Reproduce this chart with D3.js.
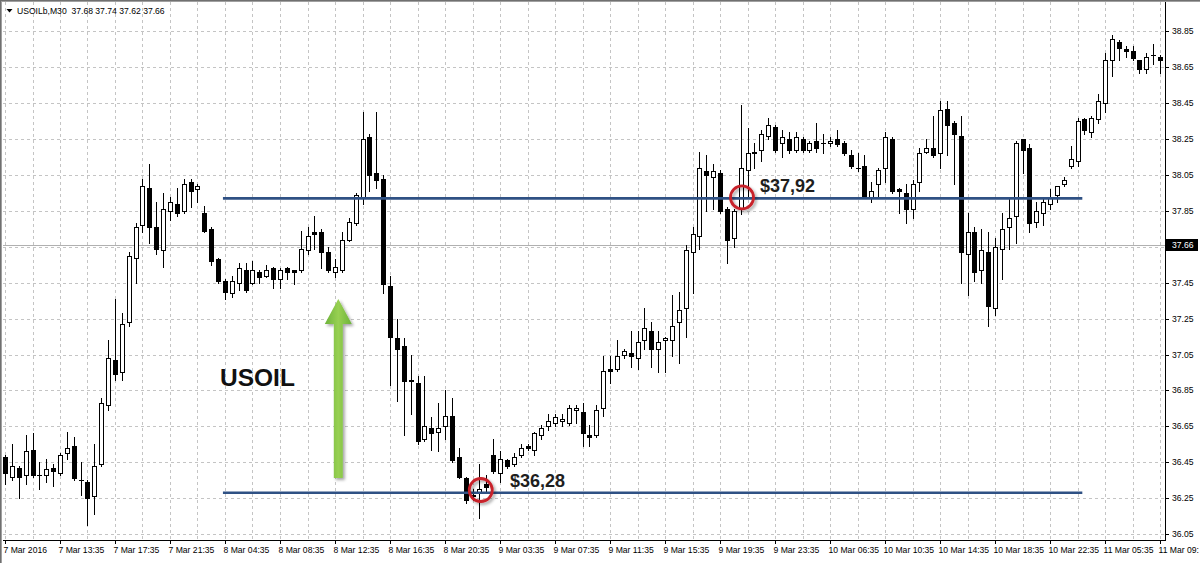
<!DOCTYPE html>
<html><head><meta charset="utf-8">
<script src="https://cdn.jsdelivr.net/npm/d3@7"></script>
<style>html,body{margin:0;padding:0;background:#fff;}svg{display:block;}</style>
</head><body>
<svg id="chart" width="1200" height="563"></svg>
<script>
// ---- data (USOILb M30 candles) ----
const opens = [36.48,36.37,36.42,36.38,36.52,36.38,36.38,36.42,36.39,36.50,36.54,36.35,36.34,36.26,36.44,36.77,37.02,36.95,37.23,37.59,
37.77,37.98,37.76,37.63,37.85,37.89,37.85,38.01,37.97,37.84,37.75,37.58,37.46,37.39,37.45,37.52,37.45,37.51,37.49,37.53,
37.47,37.53,37.52,37.52,37.63,37.73,37.73,37.62,37.51,37.52,37.69,37.78,37.92,38.26,38.06,38.03,37.43,37.14,37.10,36.91,
36.89,36.58,36.64,36.62,36.65,36.71,36.48,36.36,36.26,36.28,36.33,36.49,36.39,36.46,36.44,36.49,36.54,36.52,36.60,36.65,
36.67,36.68,36.67,36.74,36.73,36.60,36.60,36.75,36.97,36.97,37.05,37.06,37.03,37.13,37.18,37.08,37.13,37.13,37.23,37.31,
37.62,37.71,38.07,38.04,38.06,37.86,37.70,37.86,38.08,38.17,38.19,38.27,38.32,38.23,38.25,38.19,38.25,38.19,38.24,38.23,
38.23,38.25,38.23,38.16,38.09,38.10,37.93,38.00,38.09,38.25,37.97,37.95,37.86,38.01,38.18,38.20,38.17,38.42,38.34,38.27,
37.61,37.73,37.52,37.62,37.31,37.64,37.76,37.82,38.25,38.20,37.79,37.84,37.89,37.94,38.00,38.10,38.13,38.36,38.29,38.36,
38.45,38.69,38.79,38.75,38.74,38.69,38.64,38.72,38.71];
const highs = [36.49,36.55,36.43,36.60,36.61,36.45,36.47,36.44,36.50,36.62,36.59,36.45,36.35,36.55,36.81,37.13,37.36,37.28,37.62,37.78,
38.03,38.11,37.90,37.95,37.93,37.98,38.03,38.03,38.00,37.88,37.76,37.59,37.47,37.49,37.56,37.56,37.57,37.52,37.55,37.54,
37.53,37.54,37.52,37.74,37.76,37.82,37.75,37.65,37.58,37.73,37.81,37.95,38.40,38.28,38.40,38.05,37.49,37.25,37.14,37.05,
36.93,36.93,36.70,36.78,36.85,36.81,36.53,36.37,36.30,36.44,36.38,36.58,36.51,36.47,36.50,36.55,36.55,36.62,36.66,36.72,
36.72,36.72,36.77,36.77,36.78,36.66,36.77,37.04,37.04,37.13,37.08,37.18,37.18,37.31,37.23,37.18,37.15,37.38,37.40,37.66,
37.76,38.18,38.16,38.11,38.08,37.87,37.86,38.44,38.31,38.23,38.30,38.37,38.33,38.30,38.29,38.29,38.26,38.24,38.34,38.28,
38.26,38.30,38.24,38.19,38.17,38.16,38.01,38.09,38.29,38.26,37.98,38.00,38.02,38.20,38.25,38.38,38.46,38.46,38.35,38.38,
37.84,37.76,37.75,37.73,37.70,37.84,37.92,38.24,38.25,38.22,37.90,37.92,37.97,37.99,38.04,38.21,38.37,38.37,38.38,38.50,
38.73,38.83,38.80,38.77,38.77,38.69,38.73,38.78,38.72];
const lows = [36.33,36.35,36.25,36.33,36.37,36.30,36.34,36.32,36.38,36.47,36.35,36.27,36.10,36.16,36.43,36.74,36.91,36.91,37.21,37.45,
37.73,37.67,37.61,37.54,37.80,37.82,37.84,37.87,37.90,37.73,37.55,37.45,37.36,37.37,37.41,37.40,37.44,37.45,37.48,37.42,
37.42,37.47,37.44,37.51,37.61,37.64,37.53,37.51,37.48,37.51,37.68,37.77,37.89,37.96,37.98,37.39,36.88,36.79,36.60,36.72,
36.55,36.57,36.52,36.51,36.58,36.45,36.36,36.22,36.24,36.14,36.29,36.39,36.34,36.42,36.43,36.48,36.52,36.49,36.58,36.63,
36.65,36.65,36.66,36.67,36.54,36.54,36.59,36.71,36.89,36.96,37.03,36.98,36.97,37.08,36.98,36.95,36.95,37.04,37.00,37.15,
37.39,37.64,37.85,37.86,37.84,37.56,37.65,37.83,37.93,38.09,38.13,38.25,38.18,38.15,38.17,38.18,38.18,38.18,38.18,38.17,
38.21,38.21,38.16,38.09,38.07,37.92,37.90,37.93,38.01,37.95,37.84,37.78,37.81,37.96,38.17,38.15,38.09,38.16,38.00,37.45,
37.38,37.46,37.45,37.21,37.27,37.47,37.64,37.67,38.06,37.73,37.76,37.77,37.86,37.90,37.99,38.09,38.10,38.28,38.26,38.34,
38.40,38.60,38.69,38.71,38.69,38.62,38.62,38.67,38.62];
const closes = [36.39,36.43,36.37,36.51,36.38,36.38,36.41,36.40,36.49,36.53,36.36,36.35,36.25,36.43,36.78,37.03,36.94,37.22,37.60,37.76,
37.99,37.76,37.64,37.86,37.90,37.84,38.00,37.96,37.99,37.74,37.57,37.46,37.40,37.46,37.53,37.41,37.52,37.48,37.52,37.47,
37.52,37.51,37.51,37.64,37.71,37.72,37.62,37.52,37.54,37.69,37.79,37.94,38.25,38.05,38.02,37.44,37.15,37.08,36.90,36.90,
36.57,36.65,36.61,36.64,36.71,36.46,36.37,36.24,36.27,36.30,36.31,36.40,36.47,36.43,36.48,36.53,36.53,36.61,36.64,36.68,
36.70,36.69,36.75,36.75,36.61,36.59,36.74,36.96,36.96,37.04,37.07,37.04,37.12,37.20,37.08,37.12,37.14,37.21,37.30,37.63,
37.72,38.09,38.05,38.07,37.85,37.69,37.85,38.09,38.17,38.18,38.28,38.33,38.19,38.26,38.19,38.26,38.19,38.23,38.20,38.23,
38.24,38.22,38.17,38.10,38.09,37.93,37.96,38.08,38.26,37.96,37.96,37.86,38.00,38.17,38.20,38.16,38.41,38.33,38.28,37.62,
37.73,37.51,37.63,37.32,37.65,37.75,37.81,38.23,38.19,37.78,37.85,37.90,37.92,37.99,38.02,38.14,38.35,38.30,38.37,38.46,
38.69,38.81,38.76,38.74,38.70,38.64,38.71,38.72,38.69];
const timeLabels = ["7 Mar 2016","7 Mar 13:35","7 Mar 17:35","7 Mar 21:35","8 Mar 04:35","8 Mar 08:35","8 Mar 12:35",
"8 Mar 16:35","8 Mar 20:35","9 Mar 03:35","9 Mar 07:35","9 Mar 11:35","9 Mar 15:35","9 Mar 19:35","9 Mar 23:35",
"10 Mar 06:35","10 Mar 10:35","10 Mar 14:35","10 Mar 18:35","10 Mar 22:35","11 Mar 05:35","11 Mar 09:"];
const priceTicks = [36.05,36.25,36.45,36.65,36.85,37.05,37.25,37.45,37.65,37.85,38.05,38.25,38.45,38.65,38.85];
const priceLabels = ["36.05","36.25","36.45","36.65","36.85","37.05","37.25","37.45","","37.85","38.05","38.25","38.45","38.65","38.85"];
const currentPrice = 37.66;
const levels = [37.92, 36.28];
const levelLabels = ["$37,92", "$36,28"];
const title = "USOILb,M30  37.68 37.74 37.62 37.66";

// ---- drawing ----
const svg = d3.select("#chart");
const FONT = "'Liberation Sans', Arial, sans-serif";
const plot = {left: 3, right: 1165, top: 2, bottom: 540};
const n = opens.length;
const x = d3.scaleLinear().domain([0, n - 1]).range([5, 1160]);
const y = d3.scaleLinear().domain([36.05, 38.85]).range([534, 31.4]);

const defs = svg.append("defs");
defs.append("clipPath").attr("id", "clip").append("rect")
  .attr("x", plot.left).attr("y", plot.top).attr("width", plot.right - plot.left).attr("height", plot.bottom - plot.top);
const sh = defs.append("filter").attr("id", "shadow").attr("x", "-50%").attr("y", "-50%").attr("width", "200%").attr("height", "200%");
sh.append("feDropShadow").attr("dx", 2).attr("dy", 2).attr("stdDeviation", 1.6).attr("flood-color", "#000").attr("flood-opacity", 0.35);
const gg = defs.append("linearGradient").attr("id", "greenGrad").attr("x1", "0").attr("x2", "1").attr("y1", "0").attr("y2", "0");
gg.append("stop").attr("offset", "0%").attr("stop-color", "#6db33a");
gg.append("stop").attr("offset", "50%").attr("stop-color", "#98d052");
gg.append("stop").attr("offset", "100%").attr("stop-color", "#6db33a");

svg.append("rect").attr("width", 1200).attr("height", 563).attr("fill", "#fff");

// window frame
svg.append("rect").attr("x", 0).attr("y", 0).attr("width", 1200).attr("height", 2).attr("fill", "#a0a0a0");
svg.append("rect").attr("x", 0).attr("y", 0).attr("width", 2).attr("height", 563).attr("fill", "#a0a0a0");
svg.append("line").attr("x1", 0).attr("x2", 1200).attr("y1", 0.5).attr("y2", 0.5).attr("stroke", "#707070");
svg.append("line").attr("x1", 0.5).attr("x2", 0.5).attr("y1", 0).attr("y2", 563).attr("stroke", "#707070");

const g = svg.append("g").attr("clip-path", "url(#clip)");

// grid
const vBars = d3.range(0, n, 4);
g.selectAll("line.vgrid").data(vBars).enter().append("line")
  .attr("x1", d => Math.round(x(d)) + 0.5).attr("x2", d => Math.round(x(d)) + 0.5)
  .attr("y1", plot.top).attr("y2", plot.bottom)
  .attr("stroke", "#c4c4c4").attr("stroke-dasharray", "3,3");
g.selectAll("line.hgrid").data(priceTicks).enter().append("line")
  .attr("x1", plot.left).attr("x2", plot.right)
  .attr("y1", d => Math.round(y(d)) + 0.5).attr("y2", d => Math.round(y(d)) + 0.5)
  .attr("stroke", "#c4c4c4").attr("stroke-dasharray", "3,3");

// bid line
g.append("line").attr("x1", plot.left).attr("x2", plot.right)
  .attr("y1", Math.round(y(currentPrice)) + 0.5).attr("y2", Math.round(y(currentPrice)) + 0.5)
  .attr("stroke", "#b0b0b0");

// candles
const idx = d3.range(n);
const cx = i => Math.round(x(i));
g.selectAll("line.wick").data(idx).enter().append("line")
  .attr("x1", i => cx(i) + 0.5).attr("x2", i => cx(i) + 0.5)
  .attr("y1", i => Math.round(y(highs[i]))).attr("y2", i => Math.round(y(lows[i])) + 1)
  .attr("stroke", "#000").attr("stroke-width", 1);
idx.forEach(i => {
  const o = opens[i], c = closes[i];
  const top = Math.round(y(Math.max(o, c))), bot = Math.round(y(Math.min(o, c)));
  if (bot - top < 1) {
    g.append("line").attr("x1", cx(i) - 2).attr("x2", cx(i) + 3)
      .attr("y1", top + 0.5).attr("y2", top + 0.5).attr("stroke", "#000");
  } else {
    g.append("rect").attr("x", cx(i) - 1.5).attr("y", top + 0.5)
      .attr("width", 4).attr("height", bot - top)
      .attr("fill", c >= o ? "#fff" : "#000").attr("stroke", "#000").attr("stroke-width", 1);
  }
});

// axes
svg.append("line").attr("x1", plot.right + 0.5).attr("x2", plot.right + 0.5).attr("y1", 2).attr("y2", plot.bottom + 1).attr("stroke", "#000");
svg.append("line").attr("x1", plot.left).attr("x2", plot.right + 1).attr("y1", plot.bottom + 0.5).attr("y2", plot.bottom + 0.5).attr("stroke", "#000");

svg.selectAll("text.price").data(priceTicks).enter().append("text")
  .attr("x", 1172).attr("y", d => y(d) + 3)
  .attr("font-family", FONT).attr("font-size", "8.6px").attr("fill", "#000")
  .text((d, i) => priceLabels[i]);
svg.selectAll("line.ptick").data(priceTicks).enter().append("line")
  .attr("x1", plot.right + 1).attr("x2", plot.right + 4)
  .attr("y1", d => Math.round(y(d)) + 0.5).attr("y2", d => Math.round(y(d)) + 0.5).attr("stroke", "#000");

// current price box
const cy = y(currentPrice);
svg.append("rect").attr("x", plot.right + 1).attr("y", Math.round(cy) - 6).attr("width", 32).attr("height", 12).attr("fill", "#000");
svg.append("text").attr("x", 1172).attr("y", cy + 3).attr("font-family", FONT).attr("font-size", "8.6px").attr("fill", "#fff").text(currentPrice.toFixed(2));

const tBars = timeLabels.map((d, k) => k * 8);
svg.selectAll("text.time").data(timeLabels).enter().append("text")
  .attr("x", (d, k) => x(tBars[k]) - 1.5).attr("y", 552.5)
  .attr("font-family", FONT).attr("font-size", "8.6px").attr("fill", "#000")
  .text(d => d);
svg.selectAll("line.ttick").data(tBars).enter().append("line")
  .attr("x1", d => cx(d) + 0.5).attr("x2", d => cx(d) + 0.5)
  .attr("y1", plot.bottom + 1).attr("y2", plot.bottom + 4).attr("stroke", "#000");

// title
svg.append("path").attr("d", "M6.5,9 L12.5,9 L9.5,12.5 Z").attr("fill", "#000");
svg.append("text").attr("x", 17).attr("y", 14).attr("font-family", FONT).attr("font-size", "8.6px").attr("fill", "#000")
  .attr("xml:space", "preserve").style("white-space", "pre").text(title);

// ---- annotations ----
const ann = svg.append("g");
levels.forEach(p => {
  ann.append("line").attr("x1", x(31.7)).attr("x2", x(156.7))
    .attr("y1", y(p)).attr("y2", y(p))
    .attr("stroke", "#2f5184").attr("stroke-width", 2.6);
});
// red circles
[[69.2, 36.295], [107.2, 37.925]].forEach(([b, p]) => {
  ann.append("circle").attr("cx", x(b)).attr("cy", y(p)).attr("r", 11.5)
    .attr("fill", "none").attr("stroke", "#c8202a").attr("stroke-width", 2.8)
    .attr("filter", "url(#shadow)");
});
// level labels
ann.append("text").attr("x", x(109.8)).attr("y", 192).attr("font-family", FONT).attr("font-weight", "bold")
  .attr("font-size", "18px").attr("fill", "#1e1e1e").text(levelLabels[0]);
ann.append("text").attr("x", x(73.45)).attr("y", 487).attr("font-family", FONT).attr("font-weight", "bold")
  .attr("font-size", "18px").attr("fill", "#1e1e1e").text(levelLabels[1]);
// USOIL
ann.append("text").attr("x", 220).attr("y", 386).attr("font-family", FONT).attr("font-weight", "bold")
  .attr("font-size", "24.5px").attr("fill", "#111").text("USOIL");
// green arrow
const ax = 338.3;
const arrowPath = `M${ax - 4.5},478 L${ax - 4.5},324 L${ax - 13.5},324 L${ax},299 L${ax + 13.5},324 L${ax + 4.5},324 L${ax + 4.5},478 Z`;
ann.append("path").attr("d", arrowPath).attr("fill", "url(#greenGrad)").attr("filter", "url(#shadow)");
</script>
</body></html>
